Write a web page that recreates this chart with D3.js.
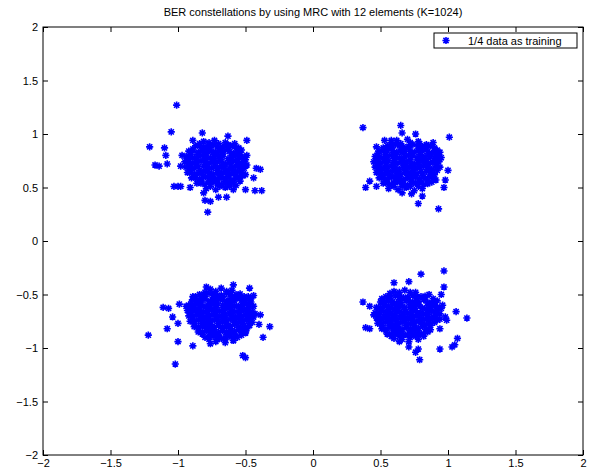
<!DOCTYPE html>
<html>
<head>
<meta charset="utf-8">
<script src="https://cdn.jsdelivr.net/npm/d3@7"></script>
<style>
  body { margin: 0; background: #fff; }
  svg text { font-family: "Liberation Sans", Arial, sans-serif; }
</style>
</head>
<body>
<div id="chart"></div>
<script>
// Chart text and ticks
const titleText = "BER constellations by using MRC with 12 elements (K=1024)";
const legendLabel = "1/4 data as training";
const xTicks = [-2, -1.5, -1, -0.5, 0, 0.5, 1, 1.5, 2];
const yTicks = [-2, -1.5, -1, -0.5, 0, 0.5, 1, 1.5, 2];

// Received symbols, one list per cluster
const symTL = [
  [-0.81,0.93],[-0.73,0.94],[-0.65,0.92],
  [-0.87,0.89],[-0.80,0.88],[-0.74,0.90],[-0.67,0.88],[-0.61,0.89],[-0.55,0.87],
  [-0.92,0.84],[-0.85,0.83],[-0.78,0.85],[-0.72,0.83],[-0.66,0.84],[-0.59,0.82],[-0.53,0.85],
  [-0.94,0.79],[-0.88,0.78],[-0.82,0.80],[-0.76,0.78],[-0.70,0.79],[-0.63,0.77],[-0.57,0.80],[-0.51,0.78],
  [-0.95,0.74],[-0.89,0.73],[-0.83,0.75],[-0.77,0.73],[-0.71,0.74],[-0.65,0.72],[-0.59,0.75],[-0.53,0.73],[-0.49,0.71],
  [-0.94,0.69],[-0.88,0.68],[-0.81,0.70],[-0.75,0.68],[-0.69,0.69],[-0.63,0.67],[-0.57,0.70],[-0.51,0.68],
  [-0.93,0.64],[-0.86,0.63],[-0.80,0.65],[-0.74,0.62],[-0.68,0.64],[-0.62,0.63],[-0.56,0.65],[-0.50,0.62],
  [-0.90,0.59],[-0.84,0.58],[-0.78,0.60],[-0.72,0.58],[-0.66,0.59],[-0.60,0.57],[-0.54,0.60],
  [-0.86,0.54],[-0.80,0.53],[-0.74,0.55],[-0.68,0.53],[-0.62,0.54],[-0.57,0.52],
  [-0.79,0.49],[-0.72,0.48],[-0.65,0.50],[-0.59,0.48],
  [-0.84,0.91],[-0.77,0.92],[-0.70,0.91],[-0.63,0.90],[-0.58,0.91],
  [-0.89,0.86],[-0.82,0.86],[-0.76,0.87],[-0.69,0.86],[-0.63,0.86],[-0.56,0.86],
  [-0.91,0.81],[-0.85,0.81],[-0.79,0.82],[-0.73,0.81],[-0.67,0.81],[-0.60,0.80],[-0.54,0.81],
  [-0.92,0.76],[-0.86,0.76],[-0.80,0.77],[-0.74,0.76],[-0.68,0.76],[-0.62,0.75],[-0.56,0.76],[-0.50,0.76],
  [-0.92,0.71],[-0.86,0.71],[-0.79,0.72],[-0.73,0.71],[-0.67,0.70],[-0.61,0.71],[-0.55,0.71],[-0.50,0.70],
  [-0.91,0.66],[-0.84,0.66],[-0.78,0.67],[-0.71,0.66],[-0.65,0.65],[-0.59,0.66],[-0.53,0.66],
  [-0.88,0.61],[-0.81,0.61],[-0.75,0.62],[-0.69,0.61],[-0.63,0.60],[-0.57,0.61],[-0.52,0.61],
  [-0.83,0.56],[-0.77,0.56],[-0.71,0.57],[-0.65,0.56],[-0.59,0.55],[-0.54,0.56],
  [-0.76,0.51],[-0.69,0.51],[-0.62,0.51],
  [-0.84,0.89],[-0.77,0.895],[-0.71,0.88],[-0.64,0.885],[-0.58,0.88],
  [-0.89,0.84],[-0.82,0.845],[-0.75,0.835],[-0.69,0.84],[-0.62,0.835],[-0.56,0.84],
  [-0.91,0.79],[-0.85,0.795],[-0.79,0.785],[-0.73,0.79],[-0.67,0.795],[-0.60,0.785],[-0.54,0.79],
  [-0.92,0.74],[-0.86,0.745],[-0.80,0.735],[-0.74,0.74],[-0.68,0.745],[-0.62,0.735],[-0.56,0.74],[-0.51,0.745],
  [-0.91,0.69],[-0.85,0.695],[-0.78,0.685],[-0.72,0.69],[-0.66,0.695],[-0.60,0.685],[-0.54,0.69],
  [-0.90,0.64],[-0.83,0.645],[-0.77,0.635],[-0.71,0.64],[-0.65,0.645],[-0.59,0.635],[-0.53,0.64],
  [-0.87,0.59],[-0.81,0.595],[-0.75,0.585],[-0.69,0.59],[-0.63,0.595],[-0.57,0.585],
  [-0.83,0.54],[-0.77,0.545],[-0.71,0.535],[-0.65,0.54],[-0.60,0.545],
  [-1.01,1.27],[-1.05,1.02],[-1.21,0.88],[-1.10,0.87],[-1.09,0.80],[-1.17,0.71],[-1.14,0.70],[-1.08,0.72],
  [-1.03,0.51],[-1.00,0.51],[-0.98,0.51],[-0.91,0.50],[-0.82,1.01],[-0.89,0.94],[-0.63,0.98],[-0.49,0.94],
  [-0.49,0.80],[-0.42,0.68],[-0.39,0.67],[-0.44,0.59],[-0.43,0.47],[-0.38,0.47],[-0.50,0.48],[-0.80,0.38],
  [-0.76,0.37],[-0.78,0.27],[-0.70,0.41],[-0.64,0.41],[-0.81,0.45],[-0.97,0.80],[-0.98,0.70]
];
const symTR = [
  [0.62,0.94],[0.70,0.95],[0.78,0.93],
  [0.55,0.89],[0.61,0.90],[0.67,0.88],[0.74,0.90],[0.81,0.88],[0.87,0.89],
  [0.49,0.84],[0.55,0.85],[0.62,0.83],[0.68,0.85],[0.75,0.83],[0.81,0.84],[0.88,0.82],[0.92,0.85],
  [0.46,0.79],[0.52,0.78],[0.58,0.80],[0.64,0.78],[0.71,0.80],[0.77,0.78],[0.83,0.79],[0.90,0.77],[0.95,0.78],
  [0.45,0.74],[0.50,0.73],[0.56,0.75],[0.63,0.73],[0.69,0.74],[0.75,0.72],[0.81,0.75],[0.87,0.73],[0.93,0.74],
  [0.46,0.69],[0.52,0.68],[0.58,0.70],[0.64,0.67],[0.70,0.69],[0.76,0.68],[0.82,0.70],[0.88,0.67],[0.94,0.69],
  [0.47,0.64],[0.53,0.63],[0.59,0.65],[0.65,0.62],[0.71,0.64],[0.77,0.63],[0.84,0.65],[0.90,0.62],
  [0.49,0.59],[0.55,0.58],[0.61,0.60],[0.67,0.57],[0.73,0.59],[0.79,0.58],[0.86,0.60],[0.91,0.57],
  [0.52,0.54],[0.58,0.53],[0.64,0.55],[0.70,0.52],[0.76,0.54],[0.82,0.53],[0.88,0.55],
  [0.56,0.49],[0.63,0.48],[0.69,0.50],[0.75,0.47],[0.81,0.49],
  [0.66,0.45],[0.73,0.44],
  [0.58,0.92],[0.65,0.91],[0.72,0.92],[0.79,0.91],[0.84,0.90],
  [0.52,0.87],[0.58,0.87],[0.65,0.86],[0.71,0.87],[0.78,0.86],[0.84,0.86],[0.90,0.87],
  [0.48,0.82],[0.54,0.81],[0.61,0.81],[0.67,0.82],[0.73,0.81],[0.79,0.81],[0.86,0.80],[0.92,0.81],
  [0.47,0.76],[0.53,0.76],[0.60,0.77],[0.66,0.76],[0.72,0.76],[0.78,0.75],[0.84,0.76],[0.90,0.75],[0.94,0.76],
  [0.48,0.71],[0.54,0.71],[0.60,0.72],[0.67,0.71],[0.73,0.71],[0.79,0.70],[0.85,0.71],[0.91,0.71],
  [0.49,0.66],[0.55,0.66],[0.62,0.67],[0.68,0.66],[0.74,0.66],[0.80,0.65],[0.87,0.66],[0.92,0.66],
  [0.51,0.61],[0.57,0.61],[0.63,0.62],[0.70,0.61],[0.76,0.61],[0.82,0.60],[0.88,0.61],
  [0.54,0.56],[0.61,0.56],[0.67,0.57],[0.73,0.56],[0.79,0.56],[0.85,0.57],
  [0.60,0.51],[0.66,0.51],[0.72,0.51],[0.78,0.51],
  [0.58,0.89],[0.64,0.895],[0.71,0.885],[0.78,0.89],[0.84,0.895],
  [0.52,0.84],[0.59,0.845],[0.65,0.835],[0.72,0.84],[0.78,0.845],[0.85,0.835],[0.90,0.84],
  [0.49,0.79],[0.55,0.795],[0.61,0.785],[0.68,0.79],[0.74,0.795],[0.80,0.785],[0.87,0.79],[0.93,0.795],
  [0.48,0.74],[0.53,0.745],[0.60,0.735],[0.66,0.74],[0.72,0.745],[0.78,0.735],[0.84,0.74],[0.90,0.745],
  [0.49,0.69],[0.55,0.695],[0.61,0.685],[0.67,0.69],[0.73,0.695],[0.79,0.685],[0.85,0.69],[0.91,0.695],
  [0.50,0.64],[0.56,0.645],[0.62,0.635],[0.68,0.64],[0.74,0.645],[0.81,0.635],[0.87,0.64],
  [0.52,0.59],[0.58,0.595],[0.64,0.585],[0.70,0.59],[0.76,0.595],[0.83,0.585],[0.89,0.59],
  [0.55,0.54],[0.61,0.545],[0.67,0.535],[0.73,0.54],[0.79,0.545],[0.85,0.535],
  [0.37,1.06],[0.65,1.08],[0.66,1.01],[0.76,1.00],[1.01,0.97],[0.89,0.92],[0.94,0.83],[1.00,0.66],
  [0.98,0.57],[0.97,0.50],[0.39,0.50],[0.47,0.51],[0.78,0.35],[0.93,0.30],[0.81,0.42],[0.42,0.56],
  [0.47,0.88],[0.53,0.94],[0.58,0.94]
];
const symBL = [
  [-0.76,-0.45],[-0.68,-0.44],[-0.60,-0.46],
  [-0.84,-0.50],[-0.77,-0.49],[-0.71,-0.51],[-0.64,-0.49],[-0.57,-0.50],[-0.51,-0.52],
  [-0.89,-0.55],[-0.83,-0.54],[-0.76,-0.56],[-0.70,-0.54],[-0.63,-0.55],[-0.57,-0.53],[-0.50,-0.56],[-0.46,-0.54],
  [-0.92,-0.60],[-0.86,-0.59],[-0.80,-0.61],[-0.74,-0.59],[-0.67,-0.60],[-0.61,-0.58],[-0.55,-0.61],[-0.49,-0.59],[-0.44,-0.61],
  [-0.93,-0.65],[-0.87,-0.64],[-0.81,-0.66],[-0.75,-0.64],[-0.69,-0.65],[-0.63,-0.63],[-0.57,-0.66],[-0.51,-0.64],[-0.45,-0.66],
  [-0.92,-0.70],[-0.86,-0.69],[-0.80,-0.71],[-0.74,-0.69],[-0.68,-0.70],[-0.62,-0.68],[-0.56,-0.71],[-0.50,-0.69],[-0.44,-0.71],
  [-0.91,-0.75],[-0.85,-0.74],[-0.79,-0.76],[-0.73,-0.74],[-0.67,-0.75],[-0.61,-0.73],[-0.55,-0.76],[-0.49,-0.74],[-0.45,-0.76],
  [-0.88,-0.80],[-0.82,-0.79],[-0.76,-0.81],[-0.70,-0.79],[-0.64,-0.80],[-0.58,-0.78],[-0.52,-0.81],[-0.47,-0.79],
  [-0.85,-0.85],[-0.79,-0.84],[-0.73,-0.86],[-0.67,-0.84],[-0.61,-0.85],[-0.55,-0.83],[-0.50,-0.86],
  [-0.80,-0.90],[-0.74,-0.89],[-0.68,-0.91],[-0.62,-0.89],[-0.56,-0.90],
  [-0.72,-0.94],[-0.65,-0.95],
  [-0.72,-0.47],[-0.64,-0.47],[-0.80,-0.48],
  [-0.87,-0.52],[-0.80,-0.52],[-0.74,-0.53],[-0.67,-0.52],[-0.60,-0.52],[-0.54,-0.53],[-0.48,-0.52],
  [-0.90,-0.57],[-0.83,-0.57],[-0.77,-0.58],[-0.71,-0.57],[-0.64,-0.57],[-0.58,-0.56],[-0.52,-0.57],[-0.46,-0.57],
  [-0.90,-0.62],[-0.84,-0.62],[-0.78,-0.63],[-0.72,-0.62],[-0.66,-0.62],[-0.60,-0.61],[-0.54,-0.62],[-0.48,-0.62],
  [-0.90,-0.67],[-0.84,-0.67],[-0.78,-0.68],[-0.72,-0.67],[-0.66,-0.67],[-0.60,-0.66],[-0.54,-0.67],[-0.48,-0.67],[-0.43,-0.68],
  [-0.89,-0.72],[-0.83,-0.72],[-0.77,-0.73],[-0.71,-0.72],[-0.65,-0.72],[-0.59,-0.71],[-0.53,-0.72],[-0.47,-0.72],
  [-0.88,-0.77],[-0.82,-0.77],[-0.76,-0.78],[-0.70,-0.77],[-0.64,-0.77],[-0.58,-0.76],[-0.52,-0.77],[-0.47,-0.77],
  [-0.85,-0.82],[-0.79,-0.82],[-0.73,-0.83],[-0.67,-0.82],[-0.61,-0.82],[-0.55,-0.81],[-0.49,-0.82],
  [-0.82,-0.87],[-0.76,-0.87],[-0.70,-0.88],[-0.64,-0.87],[-0.58,-0.87],[-0.53,-0.88],
  [-0.77,-0.92],[-0.71,-0.92],[-0.65,-0.92],[-0.59,-0.93],
  [-0.81,-0.50],[-0.74,-0.495],[-0.68,-0.505],[-0.61,-0.50],[-0.54,-0.495],
  [-0.86,-0.55],[-0.80,-0.545],[-0.73,-0.555],[-0.67,-0.55],[-0.60,-0.545],[-0.53,-0.555],
  [-0.89,-0.60],[-0.83,-0.595],[-0.77,-0.605],[-0.71,-0.60],[-0.64,-0.595],[-0.58,-0.605],[-0.52,-0.60],[-0.47,-0.595],
  [-0.90,-0.65],[-0.84,-0.645],[-0.78,-0.655],[-0.72,-0.65],[-0.66,-0.645],[-0.60,-0.655],[-0.54,-0.65],[-0.48,-0.645],
  [-0.89,-0.70],[-0.83,-0.695],[-0.77,-0.705],[-0.71,-0.70],[-0.65,-0.695],[-0.59,-0.705],[-0.53,-0.70],[-0.47,-0.695],
  [-0.88,-0.75],[-0.82,-0.745],[-0.76,-0.755],[-0.70,-0.75],[-0.64,-0.745],[-0.58,-0.755],[-0.52,-0.75],
  [-0.85,-0.80],[-0.79,-0.795],[-0.73,-0.805],[-0.67,-0.80],[-0.61,-0.795],[-0.55,-0.805],[-0.50,-0.80],
  [-0.82,-0.85],[-0.76,-0.845],[-0.70,-0.855],[-0.64,-0.85],[-0.58,-0.845],[-0.53,-0.855],
  [-0.77,-0.90],[-0.71,-0.895],[-0.65,-0.905],[-0.59,-0.90],
  [-1.22,-0.88],[-1.02,-1.15],[-1.11,-0.62],[-1.07,-0.63],[-1.04,-0.71],[-1.08,-0.82],[-0.99,-0.59],[-0.94,-0.61],
  [-1.00,-0.77],[-1.00,-0.94],[-0.89,-0.98],[-0.89,-0.52],[-0.59,-0.41],[-0.47,-0.44],[-0.44,-0.51],[-0.39,-0.69],
  [-0.40,-0.78],[-0.32,-0.80],[-0.37,-0.90],[-0.52,-1.07],[-0.50,-1.09],[-0.50,-0.85],[-0.59,-0.93],[-0.76,-0.96],
  [-0.79,-0.43]
];
const symBR = [
  [0.60,-0.47],[0.68,-0.46],[0.76,-0.48],
  [0.54,-0.52],[0.61,-0.51],[0.67,-0.53],[0.74,-0.51],[0.80,-0.52],[0.86,-0.50],
  [0.50,-0.57],[0.56,-0.56],[0.62,-0.58],[0.69,-0.56],[0.75,-0.57],[0.82,-0.55],[0.88,-0.58],[0.92,-0.56],
  [0.47,-0.62],[0.53,-0.61],[0.59,-0.63],[0.65,-0.61],[0.72,-0.62],[0.78,-0.60],[0.84,-0.63],[0.90,-0.61],[0.95,-0.63],
  [0.46,-0.67],[0.52,-0.66],[0.58,-0.68],[0.64,-0.66],[0.70,-0.67],[0.76,-0.65],[0.82,-0.68],[0.88,-0.66],[0.94,-0.68],
  [0.47,-0.72],[0.53,-0.71],[0.59,-0.73],[0.65,-0.71],[0.71,-0.72],[0.77,-0.70],[0.83,-0.73],[0.89,-0.71],[0.94,-0.73],
  [0.48,-0.77],[0.54,-0.76],[0.60,-0.78],[0.66,-0.76],[0.72,-0.77],[0.78,-0.75],[0.84,-0.78],[0.90,-0.76],
  [0.51,-0.82],[0.57,-0.81],[0.63,-0.83],[0.69,-0.81],[0.75,-0.82],[0.81,-0.80],[0.87,-0.83],
  [0.55,-0.87],[0.61,-0.86],[0.67,-0.88],[0.73,-0.86],[0.79,-0.87],[0.85,-0.85],
  [0.60,-0.91],[0.66,-0.92],[0.72,-0.90],[0.78,-0.92],
  [0.64,-0.48],[0.72,-0.48],[0.57,-0.49],
  [0.51,-0.54],[0.57,-0.54],[0.64,-0.55],[0.70,-0.54],[0.77,-0.54],[0.83,-0.53],[0.89,-0.54],
  [0.53,-0.59],[0.59,-0.59],[0.65,-0.60],[0.72,-0.59],[0.78,-0.59],[0.85,-0.58],[0.90,-0.59],
  [0.50,-0.64],[0.56,-0.64],[0.62,-0.65],[0.68,-0.64],[0.75,-0.64],[0.81,-0.63],[0.87,-0.64],[0.92,-0.65],
  [0.49,-0.69],[0.55,-0.69],[0.61,-0.70],[0.67,-0.69],[0.73,-0.69],[0.79,-0.68],[0.85,-0.69],[0.91,-0.70],
  [0.50,-0.74],[0.56,-0.74],[0.62,-0.75],[0.68,-0.74],[0.74,-0.74],[0.80,-0.73],[0.86,-0.74],[0.92,-0.74],
  [0.51,-0.79],[0.57,-0.79],[0.63,-0.80],[0.69,-0.79],[0.75,-0.79],[0.81,-0.78],[0.87,-0.79],
  [0.54,-0.84],[0.60,-0.84],[0.66,-0.85],[0.72,-0.84],[0.78,-0.84],[0.84,-0.83],
  [0.58,-0.89],[0.64,-0.89],[0.70,-0.88],[0.76,-0.89],[0.82,-0.89],
  [0.64,-0.94],[0.71,-0.94],
  [0.57,-0.52],[0.64,-0.515],[0.70,-0.525],[0.77,-0.52],[0.83,-0.515],
  [0.53,-0.57],[0.59,-0.565],[0.65,-0.575],[0.72,-0.57],[0.78,-0.565],[0.85,-0.575],[0.90,-0.57],
  [0.50,-0.62],[0.56,-0.615],[0.62,-0.625],[0.68,-0.62],[0.75,-0.615],[0.81,-0.625],[0.87,-0.62],[0.92,-0.615],
  [0.49,-0.67],[0.55,-0.665],[0.61,-0.675],[0.67,-0.67],[0.73,-0.665],[0.79,-0.675],[0.85,-0.67],[0.91,-0.665],
  [0.50,-0.72],[0.56,-0.715],[0.62,-0.725],[0.68,-0.72],[0.74,-0.715],[0.80,-0.725],[0.86,-0.72],[0.91,-0.715],
  [0.51,-0.77],[0.57,-0.765],[0.63,-0.775],[0.69,-0.77],[0.75,-0.765],[0.81,-0.775],[0.87,-0.77],
  [0.54,-0.82],[0.60,-0.815],[0.66,-0.825],[0.72,-0.82],[0.78,-0.815],[0.84,-0.825],
  [0.58,-0.87],[0.64,-0.865],[0.70,-0.875],[0.76,-0.87],[0.82,-0.865],
  [0.80,-0.31],[0.97,-0.28],[0.97,-0.43],[0.95,-0.50],[0.37,-0.57],[0.42,-0.61],[0.45,-0.69],[0.39,-0.81],
  [0.42,-0.82],[0.60,-0.39],[0.71,-0.38],[0.96,-0.60],[0.98,-0.71],[0.99,-0.74],[1.06,-0.66],[1.14,-0.72],
  [1.07,-0.91],[0.94,-1.01],[1.03,-0.99],[1.05,-0.97],[0.78,-1.01],[0.76,-1.04],[0.79,-1.11],[0.71,-0.99],
  [0.94,-0.82]
];

const width = 589, height = 473;
const plot = { left: 43, right: 583, top: 27, bottom: 455 };
const blue = "#0000ff";

const svg = d3.select("#chart").append("svg")
  .attr("width", width)
  .attr("height", height);

const x = d3.scaleLinear().domain([-2, 2]).range([plot.left, plot.right]);
const y = d3.scaleLinear().domain([-2, 2]).range([plot.bottom, plot.top]);

// star marker like matlab '*'
const r = 3.6, d = r * 0.72;
const starPath = `M${-r},0H${r}M0,${-r}V${r}M${-d},${-d}L${d},${d}M${-d},${d}L${d},${-d}`;

// axes, ticks pointing inward
const fmt = d3.format("");
svg.append("g")
  .attr("transform", `translate(0,${plot.bottom})`)
  .call(d3.axisBottom(x).tickValues(xTicks).tickFormat(fmt).tickSizeInner(-5).tickSizeOuter(0).tickPadding(4));
svg.append("g")
  .attr("transform", `translate(${plot.left},0)`)
  .call(d3.axisLeft(y).tickValues(yTicks).tickFormat(fmt).tickSizeInner(-5).tickSizeOuter(0).tickPadding(5));
svg.append("g")
  .attr("transform", `translate(0,${plot.top})`)
  .call(d3.axisTop(x).tickValues(xTicks).tickFormat("").tickSizeInner(-5).tickSizeOuter(0));
svg.append("g")
  .attr("transform", `translate(${plot.right},0)`)
  .call(d3.axisRight(y).tickValues(yTicks).tickFormat("").tickSizeInner(-5).tickSizeOuter(0));

svg.selectAll(".domain").remove();
svg.selectAll(".tick line").attr("stroke", "#000");
svg.selectAll(".tick text")
  .attr("fill", "#000")
  .style("font-size", "11px");

// plot box
svg.append("rect")
  .attr("x", plot.left)
  .attr("y", plot.top)
  .attr("width", plot.right - plot.left)
  .attr("height", plot.bottom - plot.top)
  .attr("fill", "none")
  .attr("stroke", "#000")
  .attr("stroke-width", 1);

// symbols
const allSyms = [].concat(symTL, symTR, symBL, symBR);
svg.append("g")
  .selectAll("path")
  .data(allSyms)
  .join("path")
  .attr("transform", p => `translate(${x(p[0])},${y(p[1])})`)
  .attr("d", starPath)
  .attr("fill", "none")
  .attr("stroke", blue)
  .attr("stroke-width", 1.6);

// title
svg.append("text")
  .attr("x", (plot.left + plot.right) / 2)
  .attr("y", 16)
  .attr("text-anchor", "middle")
  .style("font-size", "11px")
  .text(titleText);

// legend
const legend = svg.append("g").attr("transform", "translate(434,33)");
legend.append("rect")
  .attr("width", 143)
  .attr("height", 15)
  .attr("fill", "#fff")
  .attr("stroke", "#000");
legend.append("path")
  .attr("transform", "translate(12,7.5)")
  .attr("d", starPath)
  .attr("fill", "none")
  .attr("stroke", blue)
  .attr("stroke-width", 1.6);
legend.append("text")
  .attr("x", 34)
  .attr("y", 11.5)
  .style("font-size", "11px")
  .text(legendLabel);
</script>
</body>
</html>
